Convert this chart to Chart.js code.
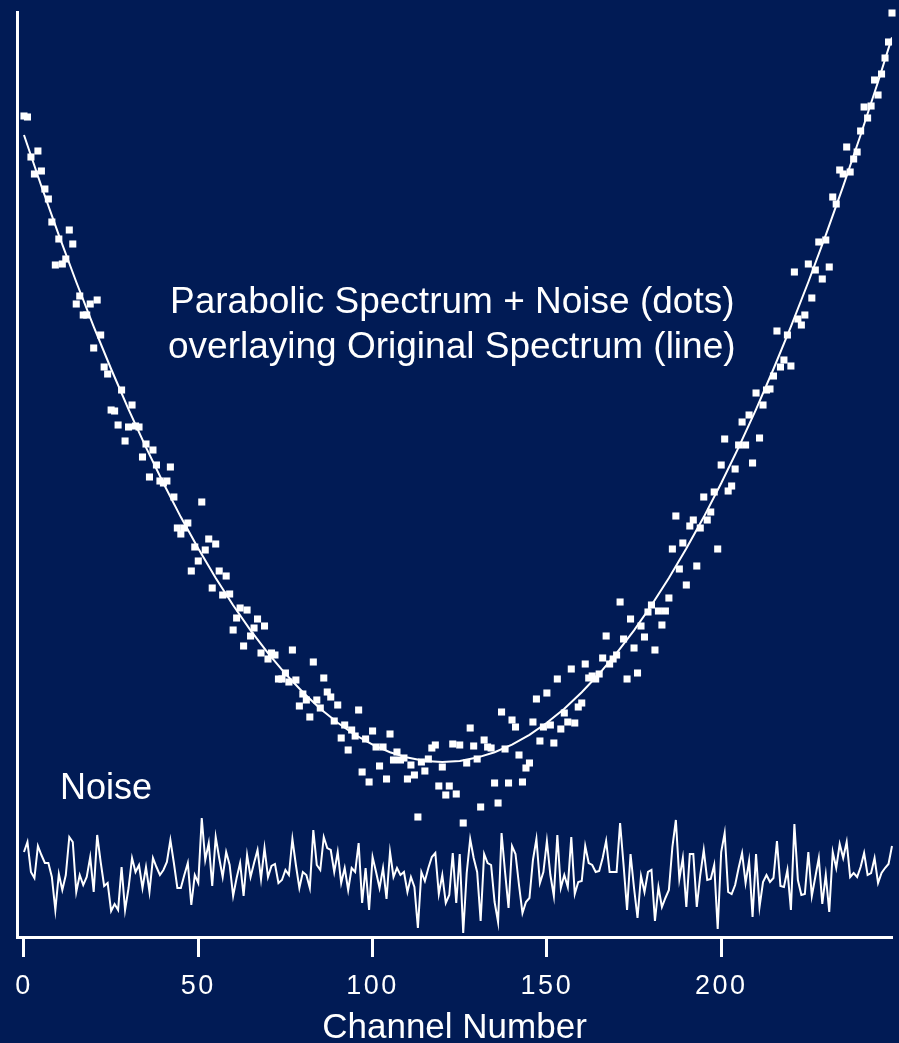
<!DOCTYPE html>
<html>
<head>
<meta charset="utf-8">
<script src="https://cdn.jsdelivr.net/npm/chart.js@4"></script>
<style>
  html, body { margin: 0; padding: 0; background: #011b55; }
  canvas { display: block; }
</style>
</head>
<body>
<canvas id="spectrum" width="899" height="1043"></canvas>
<script>
// Measured counts per channel (parabolic spectrum plus noise), channels 0..249
const counts = [
  821, 820, 780, 763, 786, 766, 748, 738, 715, 672,
  698, 673, 678, 707, 693, 633, 641, 622, 622, 633,
  589, 637, 602, 570, 563, 527, 526, 512, 547, 496,
  510, 532, 511, 510, 480, 493, 460, 487, 472, 456,
  454, 456, 470, 440, 409, 403, 409, 414, 366, 390,
  376, 435, 387, 398, 349, 393, 366, 342, 361, 343,
  307, 319, 329, 291, 327, 301, 309, 318, 284, 311,
  278, 284, 282, 258, 258, 264, 255, 287, 257, 231,
  243, 237, 220, 275, 237, 229, 259, 245, 240, 216,
  232, 199, 212, 187, 207, 201, 227, 165, 198, 155,
  206, 190, 171, 190, 158, 203, 177, 185, 177, 179,
  158, 172, 162, 120, 175, 166, 178, 189, 192, 151,
  170, 142, 151, 193, 143, 192, 114, 174, 209, 191,
  178, 130, 197, 190, 189, 154, 134, 225, 188, 154,
  217, 210, 182, 155, 169, 174, 215, 238, 196, 210,
  244, 212, 194, 258, 208, 224, 215, 268, 214, 230,
  234, 273, 259, 261, 258, 263, 279, 301, 273, 278,
  282, 335, 298, 258, 318, 289, 264, 311, 300, 325,
  332, 287, 326, 312, 326, 339, 388, 421, 368, 394,
  352, 411, 417, 371, 409, 440, 417, 425, 445, 388,
  472, 498, 446, 451, 468, 492, 515, 492, 522, 474,
  544, 499, 532, 547, 548, 561, 606, 570, 577, 602,
  571, 665, 618, 612, 622, 673, 639, 667, 695, 658,
  697, 670, 740, 733, 767, 763, 790, 765, 778, 785,
  806, 830, 819, 831, 857, 842, 863, 879, 895, 924
];

// Noise trace per channel, drawn along the bottom
const noise = [
  85, 95, 65, 59, 91, 82, 74, 74, 60, 27,
  63, 47, 62, 100, 95, 45, 62, 52, 60, 80,
  45, 102, 75, 51, 54, 26, 33, 27, 70, 27,
  49, 79, 65, 72, 49, 70, 45, 79, 70, 62,
  67, 75, 97, 74, 49, 49, 62, 74, 32, 62,
  54, 119, 77, 94, 51, 100, 79, 60, 85, 72,
  41, 59, 74, 41, 82, 60, 74, 87, 58, 89,
  60, 71, 73, 54, 57, 67, 62, 98, 72, 49,
  65, 62, 49, 107, 72, 67, 100, 89, 87, 65,
  85, 54, 69, 47, 69, 65, 94, 34, 69, 27,
  80, 65, 49, 69, 38, 85, 60, 69, 62, 65,
  45, 60, 50, 9, 65, 56, 69, 80, 84, 43,
  62, 34, 42, 84, 34, 83, 4, 64, 98, 79,
  65, 16, 83, 74, 72, 35, 15, 104, 65, 29,
  91, 83, 52, 24, 35, 39, 77, 98, 54, 65,
  96, 62, 41, 102, 49, 62, 50, 100, 43, 55,
  56, 91, 74, 72, 65, 66, 79, 96, 65, 65,
  65, 114, 72, 27, 83, 49, 19, 61, 45, 65,
  67, 16, 50, 30, 39, 47, 90, 117, 58, 79,
  30, 83, 83, 30, 62, 87, 57, 58, 72, 8,
  85, 104, 45, 43, 52, 69, 84, 54, 76, 20,
  83, 30, 55, 62, 55, 59, 96, 51, 50, 67,
  27, 113, 57, 42, 43, 85, 41, 60, 79, 33,
  62, 25, 85, 69, 93, 79, 95, 60, 64, 60,
  70, 84, 62, 64, 79, 54, 64, 69, 73, 91
];

// Original (noise-free) spectrum, sampled every 5 channels
const spectrumChannels = [
  0, 5, 10, 15, 20, 25, 30, 35, 40, 45, 50, 55, 60, 65, 70, 75, 80, 85, 90, 95,
  100, 105, 110, 115, 120, 125, 130, 135, 140, 145, 150, 155, 160, 165, 170, 175,
  180, 185, 190, 195, 200, 205, 210, 215, 220, 225, 230, 235, 240, 245, 249
];
const spectrumValues = [
  802.0, 750.8, 701.8, 655.0, 610.4, 568.0, 527.7, 489.6, 453.7, 419.9,
  388.4, 359.0, 331.7, 306.7, 283.9, 263.2, 244.7, 228.3, 214.2, 202.2,
  192.4, 184.8, 179.4, 176.1, 175.0, 176.1, 179.4, 184.8, 192.4, 202.2,
  214.2, 228.3, 244.7, 263.2, 283.9, 306.7, 331.7, 359.0, 388.4, 419.9,
  453.7, 489.6, 527.7, 568.0, 610.4, 655.0, 701.8, 750.8, 802.0, 855.3, 899.6
];

const channelTicks = [0, 50, 100, 150, 200];
const captionLines = ['Parabolic Spectrum + Noise (dots)', 'overlaying Original Spectrum (line)'];
const noiseLabel = 'Noise';
const axisTitle = 'Channel Number';

const ink = '#ffffff';
const face = '"Liberation Sans", Arial, Helvetica, sans-serif';

// Captions inside the plot, plus spaced-out tick digits
const captions = {
  id: 'captions',
  afterDatasetsDraw(chart) {
    chart.ctx.letterSpacing = '2.5px';
  },
  afterDraw(chart) {
    const ctx = chart.ctx;
    ctx.letterSpacing = '0px';
    ctx.save();
    ctx.fillStyle = ink;
    ctx.textAlign = 'left';
    ctx.textBaseline = 'alphabetic';
    ctx.font = '37px ' + face;
    ctx.fillText(captionLines[0], 170, 313);
    ctx.fillText(captionLines[1], 168, 358);
    ctx.font = '36px ' + face;
    ctx.fillText(noiseLabel, 60, 799);
    ctx.restore();
  }
};

new Chart(document.getElementById('spectrum'), {
  type: 'scatter',
  data: {
    datasets: [
      {
        label: 'Spectrum + Noise',
        data: counts.map((v, i) => ({ x: i, y: v })),
        pointStyle: 'rect',
        pointRadius: 5,
        pointBorderWidth: 0,
        backgroundColor: ink,
        borderColor: ink,
        showLine: false,
        clip: false
      },
      {
        label: 'Original Spectrum',
        data: spectrumValues.map((v, i) => ({ x: spectrumChannels[i], y: v })),
        showLine: true,
        borderColor: ink,
        borderWidth: 2,
        pointRadius: 0,
        tension: 0
      },
      {
        label: 'Noise',
        data: noise.map((v, i) => ({ x: i, y: v })),
        showLine: true,
        borderColor: ink,
        borderWidth: 2,
        pointRadius: 0,
        tension: 0,
        clip: { left: 0, top: 0, right: 3, bottom: 0 }
      }
    ]
  },
  options: {
    responsive: false,
    animation: false,
    devicePixelRatio: 1,
    events: [],
    layout: { padding: { left: 17, right: 7, top: 12, bottom: 0 } },
    plugins: { legend: { display: false }, tooltip: { enabled: false } },
    scales: {
      x: {
        type: 'linear',
        min: -2,
        max: 249,
        afterBuildTicks: (scale) => { scale.ticks = channelTicks.map(v => ({ value: v })); },
        afterFit: (scale) => { scale.height = 106; },
        border: { display: true, color: ink, width: 3 },
        grid: {
          display: true,
          drawOnChartArea: false,
          drawTicks: true,
          tickLength: 20,
          tickWidth: 3,
          tickColor: ink,
          color: ink
        },
        ticks: {
          color: ink,
          font: { family: face, size: 27, lineHeight: 1.2 },
          padding: 13,
          maxRotation: 0,
          autoSkip: false,
          z: 1
        },
        title: {
          display: true,
          text: axisTitle,
          color: ink,
          font: { family: face, size: 35, lineHeight: 1 },
          padding: { top: 0, bottom: -2.5 }
        }
      },
      y: {
        type: 'linear',
        min: 0,
        max: 925,
        border: { display: true, color: ink, width: 3 },
        grid: { display: false, drawTicks: false },
        ticks: { display: false }
      }
    }
  },
  plugins: [captions]
});
</script>
</body>
</html>
